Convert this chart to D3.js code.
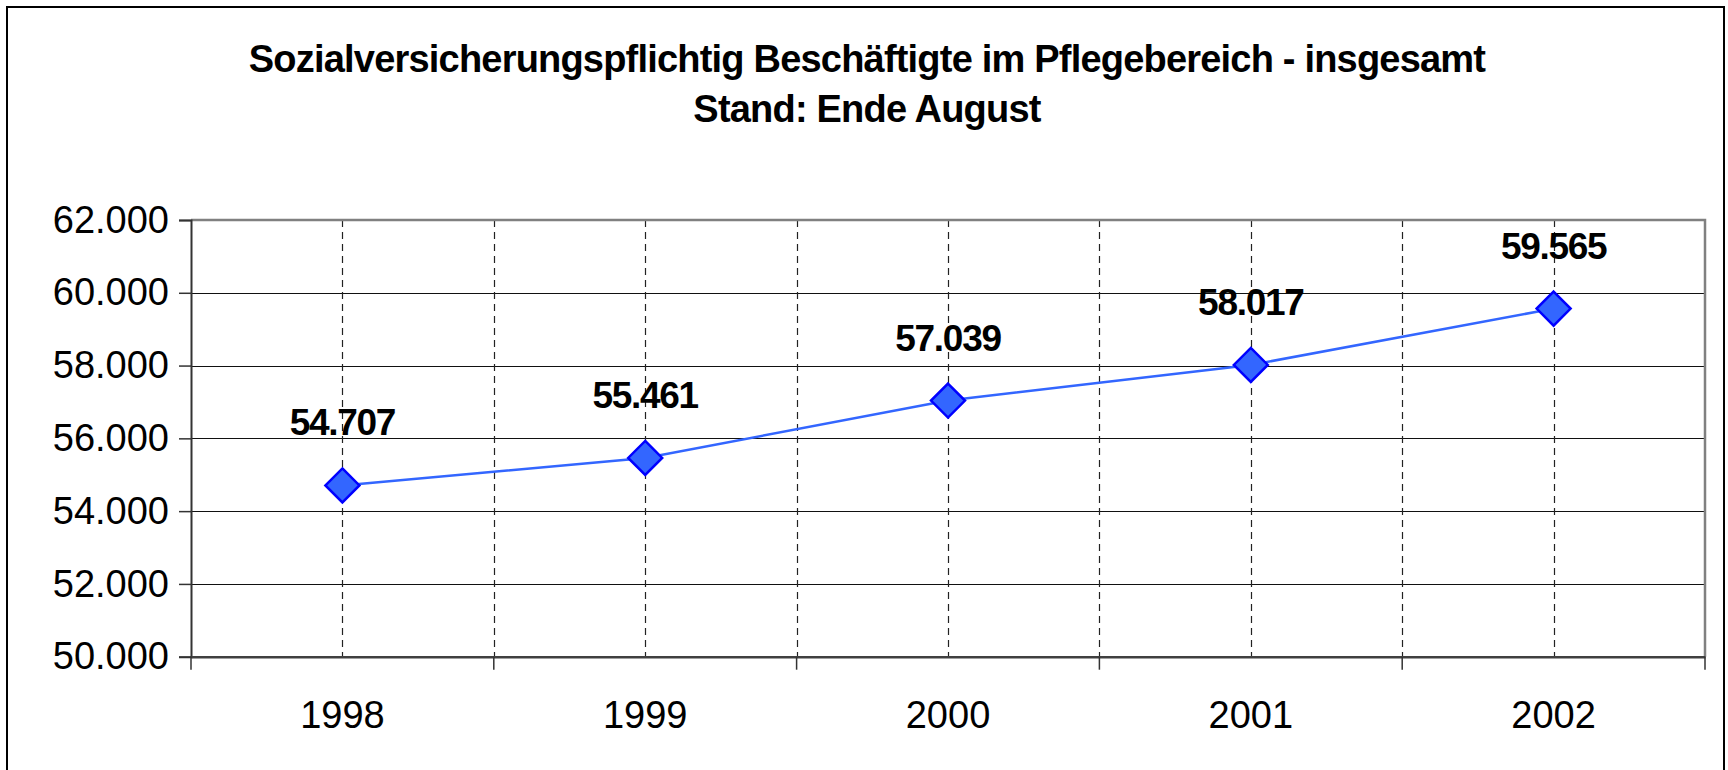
<!DOCTYPE html>
<html>
<head>
<meta charset="utf-8">
<script src="https://cdn.jsdelivr.net/npm/d3@7"></script>
<style>
  html, body { margin: 0; padding: 0; background: #fff; }
  svg { display: block; font-family: "Liberation Sans", Arial, sans-serif; }
</style>
</head>
<body>
<svg id="chart" width="1728" height="770"></svg>
<script>
const titleLines = ["Sozialversicherungspflichtig Beschäftigte im Pflegebereich - insgesamt", "Stand: Ende August"];
const years = ["1998", "1999", "2000", "2001", "2002"];
const employees = [54707, 55461, 57039, 58017, 59565];
const yTicks = [50000, 52000, 54000, 56000, 58000, 60000, 62000];
const yDomain = [50000, 62000];

const svg = d3.select("#chart");
const plot = { left: 191, right: 1705, top: 220, bottom: 656.7 };

const fmt = v => d3.format(",")(v).replace(/,/g, ".");

// outer border
svg.append("rect").attr("x", 7).attr("y", 7).attr("width", 1717).attr("height", 780)
  .attr("fill", "#fff").attr("stroke", "#000").attr("stroke-width", 2);

// title
const title = svg.append("text").attr("text-anchor", "middle")
  .attr("font-weight", "bold").attr("font-size", 38).attr("letter-spacing", -0.8).attr("fill", "#000");
titleLines.forEach((t, i) => {
  title.append("tspan").attr("x", 867).attr("y", 71.5 + i * 50).text(t);
});

const x = d3.scaleBand().domain(years).range([plot.left, plot.right]).padding(0);
const y = d3.scaleLinear().domain(yDomain).range([plot.bottom, plot.top]);

// horizontal gridlines
svg.append("g").selectAll("line").data(yTicks.filter(v => v > yDomain[0] && v < yDomain[1]))
  .join("line")
  .attr("x1", plot.left).attr("x2", plot.right)
  .attr("y1", d => Math.round(y(d)) + 0.5).attr("y2", d => Math.round(y(d)) + 0.5)
  .attr("stroke", "#111").attr("stroke-width", 1.2);

// vertical dashed gridlines at band boundaries and centers
const vPositions = [];
years.forEach((yr, i) => {
  if (i > 0) vPositions.push(x(yr));
  vPositions.push(x(yr) + x.bandwidth() / 2);
});
svg.append("g").selectAll("line").data(vPositions).join("line")
  .attr("x1", d => Math.round(d) + 0.5).attr("x2", d => Math.round(d) + 0.5)
  .attr("y1", plot.top).attr("y2", plot.bottom)
  .attr("stroke", "#222").attr("stroke-width", 1.2).attr("stroke-dasharray", "7,5");

// plot border top/right (gray)
svg.append("path")
  .attr("d", `M${plot.left},${plot.top}H${plot.right}V${plot.bottom}`)
  .attr("fill", "none").attr("stroke", "#808080").attr("stroke-width", 2.5);

// Y axis
const yAxis = d3.axisLeft(y).tickValues(yTicks).tickFormat(fmt).tickSize(12).tickPadding(10);
const gy = svg.append("g").attr("transform", `translate(${plot.left},0)`).call(yAxis);
gy.select(".domain").attr("stroke", "#333").attr("stroke-width", 2);
gy.selectAll(".tick line").attr("stroke", "#333").attr("stroke-width", 1.5);
gy.selectAll(".tick text").attr("font-size", 38).attr("fill", "#000")
  .attr("font-family", "'Liberation Sans', Arial, sans-serif");

// X axis
const xAxis = d3.axisBottom(x).tickSize(0).tickPadding(44);
const gx = svg.append("g").attr("transform", `translate(0,${plot.bottom})`).call(xAxis);
gx.select(".domain").attr("stroke", "#404040").attr("stroke-width", 2.5);
gx.selectAll(".tick text").attr("font-size", 38).attr("fill", "#000")
  .attr("font-family", "'Liberation Sans', Arial, sans-serif");
// tick marks at band boundaries
const boundaries = years.map(yr => x(yr)).concat([x(years[years.length - 1]) + x.bandwidth()]);
svg.append("g").selectAll("line").data(boundaries).join("line")
  .attr("x1", d => d).attr("x2", d => d)
  .attr("y1", plot.bottom).attr("y2", plot.bottom + 13)
  .attr("stroke", "#333").attr("stroke-width", 1.5);

// line
const pts = years.map((yr, i) => ({ x: x(yr) + x.bandwidth() / 2, y: y(employees[i]), v: employees[i] }));
svg.append("path").datum(pts)
  .attr("d", d3.line().x(d => d.x).y(d => d.y))
  .attr("fill", "none").attr("stroke", "#3366FF").attr("stroke-width", 2.5);

// markers
const r = 17;
svg.append("g").selectAll("path").data(pts).join("path")
  .attr("d", d => `M${d.x},${d.y - r}L${d.x + r},${d.y}L${d.x},${d.y + r}L${d.x - r},${d.y}Z`)
  .attr("fill", "#3366FF").attr("stroke", "#0000FF").attr("stroke-width", 2.5);

// data labels
svg.append("g").selectAll("text").data(pts).join("text")
  .attr("x", d => d.x).attr("y", d => d.y - 50)
  .attr("text-anchor", "middle").attr("font-weight", "bold").attr("font-size", 37)
  .attr("letter-spacing", -1.3)
  .attr("fill", "#000").text(d => fmt(d.v));
</script>
</body>
</html>
